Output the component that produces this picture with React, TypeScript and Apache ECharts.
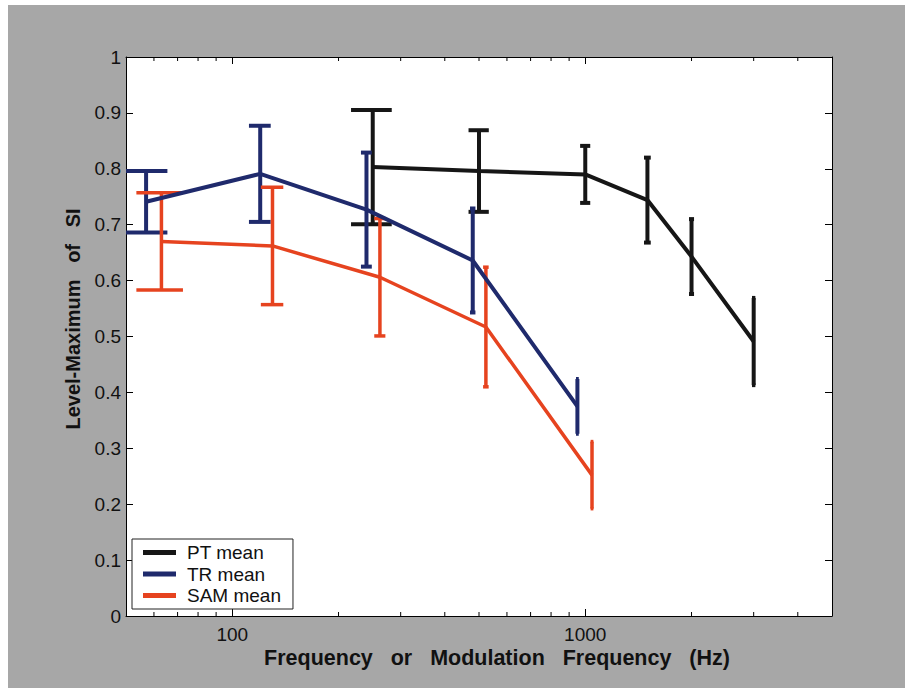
import React, { useEffect, useRef } from "react";
import * as echarts from "echarts";

// Pure-tone series (frequency in Hz, mean and +/- half error)
const PT_FREQ = [250, 500, 1000, 1500, 2000, 3000];
const PT_MEAN = [0.803, 0.796, 0.79, 0.744, 0.643, 0.491];
const PT_ERR = [0.102, 0.073, 0.051, 0.076, 0.067, 0.078];

// Transposed-tone series (modulation frequency in Hz)
const TR_FREQ = [57, 120, 240, 480, 950];
const TR_MEAN = [0.741, 0.791, 0.727, 0.636, 0.375];
const TR_ERR = [0.055, 0.086, 0.102, 0.093, 0.049];

// SAM series (modulation frequency in Hz)
const SAM_FREQ = [63, 130, 262, 523, 1045];
const SAM_MEAN = [0.67, 0.662, 0.606, 0.517, 0.252];
const SAM_ERR = [0.087, 0.105, 0.105, 0.107, 0.06];

const X_LABELED_TICKS = [100, 1000];
const X_MINOR_TICKS = [60, 70, 80, 90, 200, 300, 400, 500, 600, 700, 800, 900, 2000, 3000, 4000];

const FONT = "'Liberation Sans', Arial, Helvetica, sans-serif";

type SeriesDef = {
  name: string;
  freq: number[];
  mean: number[];
  err: number[];
  color: string;
  capHz: number;
  width: number;
};

const SERIES: SeriesDef[] = [
  { name: "PT mean", freq: PT_FREQ, mean: PT_MEAN, err: PT_ERR, color: "#161616", capHz: 33, width: 4 },
  { name: "TR mean", freq: TR_FREQ, mean: TR_MEAN, err: TR_ERR, color: "#1f2a6c", capHz: 8.5, width: 4 },
  { name: "SAM mean", freq: SAM_FREQ, mean: SAM_MEAN, err: SAM_ERR, color: "#e6431f", capHz: 9.5, width: 3.5 },
];

function lineSeries(s: SeriesDef) {
  return {
    type: "line",
    name: s.name,
    xAxisIndex: 0,
    yAxisIndex: 0,
    data: s.freq.map((f, i) => [f, s.mean[i]]),
    showSymbol: false,
    symbol: "none",
    lineStyle: { color: s.color, width: s.width },
    itemStyle: { color: s.color },
    silent: true,
    z: 3,
  };
}

function errorSeries(s: SeriesDef) {
  return {
    type: "custom",
    name: s.name + " error",
    xAxisIndex: 0,
    yAxisIndex: 0,
    clip: true,
    silent: true,
    z: 3,
    data: s.freq.map((f, i) => [f, s.mean[i] - s.err[i], s.mean[i] + s.err[i]]),
    encode: { x: 0, y: [1, 2] },
    renderItem: (_params: any, api: any) => {
      const f = api.value(0);
      const lo = api.value(1);
      const hi = api.value(2);
      const top = api.coord([f, hi]);
      const bot = api.coord([f, lo]);
      const l = api.coord([f - s.capHz, hi])[0];
      const r = api.coord([f + s.capHz, hi])[0];
      const style = { stroke: s.color, lineWidth: s.width, fill: "none" };
      return {
        type: "group",
        children: [
          { type: "line", shape: { x1: top[0], y1: top[1], x2: bot[0], y2: bot[1] }, style },
          { type: "line", shape: { x1: l, y1: top[1], x2: r, y2: top[1] }, style },
          { type: "line", shape: { x1: l, y1: bot[1], x2: r, y2: bot[1] }, style },
        ],
      };
    },
  };
}

// Minor log ticks on the bottom and top frame edges
const minorTickSeries = {
  type: "custom",
  name: "minor ticks",
  xAxisIndex: 0,
  yAxisIndex: 0,
  clip: false,
  silent: true,
  z: 4,
  data: X_MINOR_TICKS.map((f) => [f, 0]),
  encode: { x: 0, y: 1 },
  renderItem: (_params: any, api: any) => {
    const f = api.value(0);
    const b = api.coord([f, 0]);
    const t = api.coord([f, 1]);
    const style = { stroke: "#000", lineWidth: 1 };
    return {
      type: "group",
      children: [
        { type: "line", shape: { x1: b[0], y1: b[1], x2: b[0], y2: b[1] - 4 }, style },
        { type: "line", shape: { x1: t[0], y1: t[1], x2: t[0], y2: t[1] + 4 }, style },
      ],
    };
  },
};

const axisLineStyle = { color: "#000", width: 1 };

function xAxisDef(position: "bottom" | "top", labels: boolean) {
  return {
    type: "log",
    logBase: 10,
    min: 50,
    max: 5000,
    position,
    splitNumber: 2,
    axisLine: { show: true, onZero: false, lineStyle: axisLineStyle },
    axisTick: { show: true, inside: true, length: 7, lineStyle: axisLineStyle },
    axisLabel: {
      show: labels,
      fontSize: 19,
      fontFamily: FONT,
      color: "#111",
      margin: 9,
      formatter: (v: number) => {
        const r = Math.round(v);
        return X_LABELED_TICKS.includes(r) ? String(r) : "";
      },
    },
    splitLine: { show: false },
    minorTick: { show: false },
  };
}

function yAxisDef(position: "left" | "right", labels: boolean) {
  return {
    type: "value",
    min: 0,
    max: 1,
    interval: 0.1,
    position,
    axisLine: { show: true, onZero: false, lineStyle: axisLineStyle },
    axisTick: { show: true, inside: true, length: 7, lineStyle: axisLineStyle },
    axisLabel: {
      show: labels,
      fontSize: 19,
      fontFamily: FONT,
      color: "#111",
      margin: 5,
      formatter: (v: number) => String(Number(v.toFixed(1))),
    },
    splitLine: { show: false },
  };
}

export default function App() {
  const ref = useRef<HTMLDivElement>(null);

  useEffect(() => {
    if (!ref.current) return;
    const chart = echarts.init(ref.current, undefined, { renderer: "svg" });
    chart.setOption({
      animation: false,
      backgroundColor: "#ffffff",
      grid: {
        left: 126,
        top: 57,
        width: 706,
        height: 559,
        show: true,
        backgroundColor: "#ffffff",
        borderWidth: 0,
        containLabel: false,
        outerBoundsMode: "none",
      },
      xAxis: [xAxisDef("bottom", true), xAxisDef("top", false)],
      yAxis: [yAxisDef("left", true), yAxisDef("right", false)],
      legend: {
        data: SERIES.map((s) => s.name),
        orient: "vertical",
        left: 132,
        top: 539,
        padding: [4, 12, 4, 11],
        itemGap: 2.5,
        itemWidth: 33,
        itemHeight: 5,
        icon: "rect",
        backgroundColor: "#ffffff",
        borderColor: "#222",
        borderWidth: 1,
        borderRadius: 0,
        selectedMode: false,
        textStyle: { fontSize: 19, fontFamily: FONT, color: "#111", padding: [0, 0, 0, 6] },
      },
      graphic: [
        {
          type: "rect",
          z: -100,
          silent: true,
          shape: { x: 8, y: 5, width: 897, height: 683 },
          style: { fill: "#a7a7a7" },
        },
        {
          type: "text",
          x: 497,
          y: 658,
          silent: true,
          style: {
            text: "Frequency   or   Modulation   Frequency   (Hz)",
            font: `bold 21.5px ${FONT}`,
            fill: "#111",
            textAlign: "center",
            textVerticalAlign: "middle",
          },
        },
        {
          type: "text",
          x: 73,
          y: 319,
          rotation: Math.PI / 2,
          silent: true,
          style: {
            text: "Level-Maximum   of   SI",
            font: `bold 20px ${FONT}`,
            fill: "#111",
            textAlign: "center",
            textVerticalAlign: "middle",
          },
        },
      ],
      series: [
        ...SERIES.map(errorSeries),
        ...SERIES.map(lineSeries),
        minorTickSeries,
      ],
    });
    return () => chart.dispose();
  }, []);

  return (
    <div
      style={{
        position: "fixed",
        left: 0,
        top: 0,
        width: 905,
        height: 688,
        background: "#ffffff",
      }}
    >
      <div ref={ref} style={{ width: 905, height: 688 }} />
    </div>
  );
}
